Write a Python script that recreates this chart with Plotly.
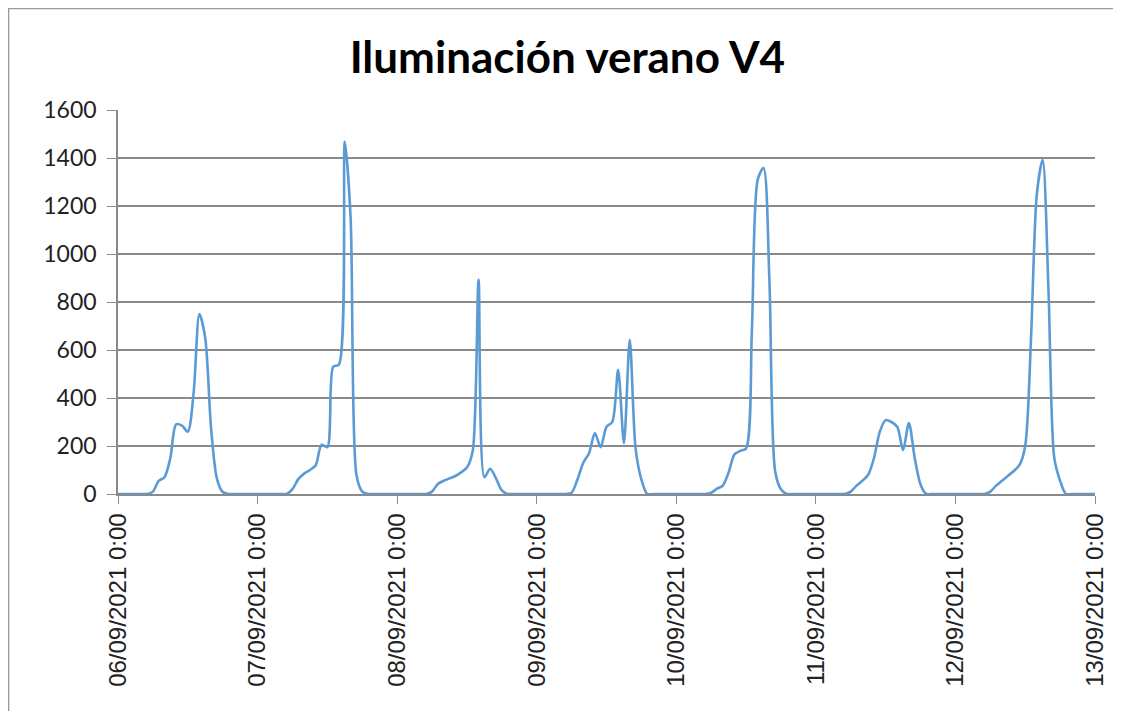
import pandas as pd
import plotly.graph_objs as go

start_day = "2021-09-06"
day_labels = [
    "06/09/2021 0:00",
    "07/09/2021 0:00",
    "08/09/2021 0:00",
    "09/09/2021 0:00",
    "10/09/2021 0:00",
    "11/09/2021 0:00",
    "12/09/2021 0:00",
    "13/09/2021 0:00",
]

# hourly illuminance readings, one list per day (00h..23h)
dia_06 = [0, 0, 0, 0, 0, 0, 10, 55, 70, 150, 290, 285, 260, 420, 750, 650, 275, 65, 8, 0, 0, 0, 0, 0]
dia_07 = [0, 0, 0, 0, 0, 0, 20, 62, 85, 100, 120, 205, 195, 530, 540, 1467, 1150, 80, 10, 0, 0, 0, 0, 0]
dia_08 = [0, 0, 0, 0, 0, 0, 10, 42, 55, 65, 75, 90, 110, 180, 892, 70, 105, 65, 15, 0, 0, 0, 0, 0]
dia_09 = [0, 0, 0, 0, 0, 0, 5, 60, 130, 170, 254, 195, 280, 300, 517, 212, 642, 190, 60, 0, 0, 0, 0, 0]
dia_10 = [0, 0, 0, 0, 0, 0, 5, 22, 35, 90, 165, 180, 190, 680, 1310, 1358, 900, 95, 20, 0, 0, 0, 0, 0]
dia_11 = [0, 0, 0, 0, 0, 0, 10, 35, 55, 80, 150, 260, 308, 300, 280, 183, 296, 150, 40, 0, 0, 0, 0, 0]
dia_12 = [0, 0, 0, 0, 0, 0, 10, 35, 55, 75, 95, 120, 200, 650, 1250, 1392, 850, 150, 55, 0, 0, 0, 0, 0]
final_value = [0]

valores = dia_06 + dia_07 + dia_08 + dia_09 + dia_10 + dia_11 + dia_12 + final_value
tiempos = pd.date_range(start_day, periods=len(valores), freq="h")
ticks = pd.date_range(start_day, periods=len(day_labels), freq="D")

axis_color = "#8a8a8a"

fig = go.Figure()
fig.add_trace(
    go.Scatter(
        x=tiempos,
        y=valores,
        mode="lines",
        line=dict(color="#5B9BD5", width=2.6, shape="spline", smoothing=0.8),
        showlegend=False,
    )
)

# the page puts the figure 8px in from the top-left corner
fig.update_layout(
    width=1121,
    height=711,
    paper_bgcolor="white",
    plot_bgcolor="white",
    margin=dict(l=110, r=34, t=102, b=225),
    title=dict(
        text="<b>Iluminación verano V4</b>",
        x=0.499,
        xanchor="center",
        y=0.93,
        yanchor="middle",
        font=dict(family="Lato, Open Sans, sans-serif", size=44, color="black"),
    ),
    xaxis=dict(
        range=[ticks[0], ticks[-1]],
        tickvals=ticks,
        ticktext=day_labels,
        tickangle=-90,
        ticks="outside",
        ticklen=8,
        tickcolor=axis_color,
        showline=True,
        linecolor=axis_color,
        linewidth=1.5,
        showgrid=False,
        zeroline=False,
        tickfont=dict(family="Liberation Sans, Arial, sans-serif", size=24, color="#222"),
    ),
    yaxis=dict(
        range=[0, 1600],
        dtick=200,
        ticks="outside",
        ticklen=9,
        tickcolor=axis_color,
        showline=True,
        linecolor=axis_color,
        linewidth=1.5,
        showgrid=True,
        gridcolor=axis_color,
        gridwidth=1.5,
        zeroline=False,
        ticklabelstandoff=6,
        tickfont=dict(family="Lato, Open Sans, sans-serif", size=23, color="#222"),
    ),
)

# chart frame
fig.add_shape(
    type="rect",
    xref="paper",
    yref="paper",
    x0=-0.1120,
    x1=1.0225,
    y0=-0.60,
    y1=1.264,
    line=dict(color="#9a9a9a", width=1.5),
    layer="below",
)

fig.write_html("out.html")
